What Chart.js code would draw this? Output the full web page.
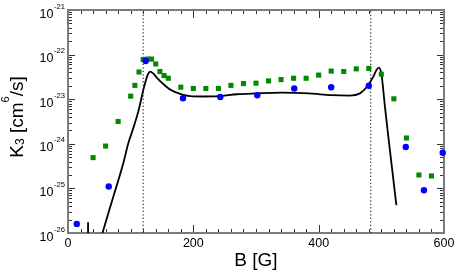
<!DOCTYPE html>
<html>
<head>
<meta charset="utf-8">
<script src="https://cdn.jsdelivr.net/npm/chart.js@4/dist/chart.umd.min.js"></script>
<style>
  html, body { margin: 0; padding: 0; background: #fff; }
  #wrap { width: 456px; height: 273px; }
</style>
</head>
<body>
<div id="wrap"><canvas id="c" width="456" height="273"></canvas></div>
<script>
// ---- data ----
const greenX = [40, 60, 80, 100, 106.7, 113.3, 120, 126.7, 133.3, 140, 146.7, 153.3, 160,
  180, 200, 220, 240, 260, 280, 300, 320, 340, 360, 380, 400, 420, 440, 460, 480, 500, 520, 540, 560, 580];
const greenY = [4.9e-25, 8.9e-25, 3.16e-24, 1.17e-23, 2.04e-23, 4.07e-23, 7.76e-23, 7.94e-23, 7.94e-23, 6.17e-23, 4.17e-23, 3.39e-23, 2.95e-23,
  1.86e-23, 1.74e-23, 1.74e-23, 1.74e-23, 2.04e-23, 2.24e-23, 2.29e-23, 2.57e-23, 2.75e-23, 2.95e-23, 2.95e-23, 3.47e-23, 4.27e-23, 4.17e-23, 4.79e-23, 4.9e-23, 3.63e-23, 1.02e-23, 1.35e-24, 2.0e-25, 1.9e-25];

const blueX = [14, 65, 124, 183.5, 243, 302, 361, 420, 480, 539, 568, 598];
const blueY = [1.6e-26, 1.1e-25, 7.2e-23, 1.05e-23, 1.12e-23, 1.23e-23, 1.74e-23, 1.86e-23, 2.0e-23, 8.5e-25, 9.1e-26, 6.3e-25];

const curveX = [55, 72, 88, 96, 104, 112, 116, 120, 123, 127, 131, 136, 142, 152, 165, 179, 195, 215, 240, 270, 300, 340, 385, 420, 450, 466, 477, 487, 492, 496, 500, 506, 511, 524];
const curveY = [1.0e-26, 6.3e-26, 3.55e-25, 1.0e-24, 2.2e-24, 5.2e-24, 8.9e-24, 1.58e-23, 2.29e-23, 3.47e-23, 4.17e-23, 3.8e-23, 3.0e-23, 2.19e-23, 1.58e-23, 1.32e-23, 1.17e-23, 1.15e-23, 1.17e-23, 1.29e-23, 1.35e-23, 1.41e-23, 1.35e-23, 1.23e-23, 1.2e-23, 1.35e-23, 1.9e-23, 3.16e-23, 4.47e-23, 5.13e-23, 3.8e-23, 6.3e-24, 1.5e-24, 4.2e-26];

const barX = [32, 32];
const barY = [1.0e-26, 1.75e-26];

const vLines = [120, 483];

const xTickLabels = ['0', '200', '400', '600'];
const xMinorStep = 20;
const yTickExponents = ['-26', '-25', '-24', '-23', '-22', '-21'];

const xTitle = 'B [G]';
const yTitleParts = [['K', 'n'], ['3', 'sub'], [' [cm', 'n'], ['6', 'sup'], ['/s]', 'n']];

// ---- build datasets ----
const pts = (xs, ys) => xs.map((x, i) => ({ x: x, y: ys[i] }));
const FONT = '"Liberation Sans", Arial, Helvetica, sans-serif';

const datasets = [
  { label: 'blue', data: pts(blueX, blueY), backgroundColor: '#0000ff', borderColor: '#0000ff', borderWidth: 0,
    pointStyle: 'circle', pointRadius: 3.2, showLine: false, clip: false },
  { label: 'green', data: pts(greenX, greenY), backgroundColor: '#008a00', borderColor: '#008a00', borderWidth: 0,
    pointStyle: 'rect', pointRadius: 3.6, showLine: false },
  { label: 'curve', data: pts(curveX, curveY), borderColor: '#000', borderWidth: 1.8, pointRadius: 0,
    showLine: true, cubicInterpolationMode: 'monotone' },
  { label: 'bar', data: pts(barX, barY), borderColor: '#000', borderWidth: 1.8, pointRadius: 0, showLine: true }
];
vLines.forEach(v => {
  datasets.push({ label: 'v' + v, data: [{ x: v, y: 1e-26 }, { x: v, y: 1e-21 }], borderColor: '#333',
    borderWidth: 1.2, borderDash: [1.3, 2.2], pointRadius: 0, showLine: true });
});

const axisPlugin = {
  id: 'axisDecor',
  beforeDatasetsDraw(chart) {
    const ctx = chart.ctx, a = chart.chartArea;
    const xs = chart.scales.x, ys = chart.scales.y;
    ctx.save();
    ctx.strokeStyle = '#333';
    ctx.lineWidth = 1;
    ctx.beginPath();
    for (let v = 0; v <= 600; v += xMinorStep) {
      const px = Math.round(xs.getPixelForValue(v)) + 0.5;
      const major = xTickLabels.indexOf(String(v)) >= 0;
      const len = major ? 8 : 4;
      ctx.moveTo(px, a.bottom); ctx.lineTo(px, a.bottom - len);
      ctx.moveTo(px, a.top); ctx.lineTo(px, a.top + len);
    }
    yTickExponents.forEach((e, i) => {
      const dec = Math.pow(10, Number(e));
      for (let m = 1; m <= 9; m++) {
        if (m > 1 && i === yTickExponents.length - 1) break;
        const val = dec * m;
        const py = Math.round(ys.getPixelForValue(val)) + 0.5;
        const len = m === 1 ? 7 : 4;
        ctx.moveTo(a.left, py); ctx.lineTo(a.left + len, py);
        ctx.moveTo(a.right, py); ctx.lineTo(a.right - len, py);
      }
    });
    ctx.stroke();
    ctx.strokeStyle = '#7a7a7a';
    ctx.lineWidth = 2;
    ctx.strokeRect(a.left, a.top, a.right - a.left, a.bottom - a.top);
    ctx.restore();
  },
  afterDraw(chart) {
    const ctx = chart.ctx, a = chart.chartArea;
    const xs = chart.scales.x, ys = chart.scales.y;
    ctx.save();
    ctx.fillStyle = '#000';
    ctx.font = '12.5px ' + FONT;
    ctx.textAlign = 'center';
    ctx.textBaseline = 'alphabetic';
    xTickLabels.forEach(t => {
      ctx.fillText(t, xs.getPixelForValue(Number(t)), a.bottom + 13.8);
    });
    yTickExponents.forEach(e => {
      const py = ys.getPixelForValue(Math.pow(10, Number(e)));
      ctx.font = '7.6px ' + FONT;
      const w = ctx.measureText(e).width;
      const supX = a.left - 3 - w;
      ctx.textAlign = 'left';
      ctx.fillText(e, supX, py - 1.5);
      ctx.font = '12.5px ' + FONT;
      ctx.textAlign = 'right';
      ctx.fillText('10', supX - 0.5, py + 7.5);
    });
    ctx.font = '19px ' + FONT;
    ctx.textAlign = 'center';
    ctx.fillText(xTitle, (a.left + a.right) / 2, 266);
    const sizes = { n: 19, sub: 12, sup: 11 };
    let total = 0;
    yTitleParts.forEach(p => { ctx.font = sizes[p[1]] + 'px ' + FONT; total += ctx.measureText(p[0]).width; });
    ctx.translate(22.7, 117 + total / 2);
    ctx.rotate(-Math.PI / 2);
    ctx.textAlign = 'left';
    let x = 0;
    yTitleParts.forEach(p => {
      ctx.font = sizes[p[1]] + 'px ' + FONT;
      const dy = p[1] === 'sub' ? 1.5 : (p[1] === 'sup' ? -14 : 0);
      ctx.fillText(p[0], x, dy);
      x += ctx.measureText(p[0]).width;
    });
    ctx.restore();
  }
};

new Chart(document.getElementById('c'), {
  type: 'scatter',
  data: { datasets: datasets },
  options: {
    responsive: false,
    animation: false,
    devicePixelRatio: 1,
    layout: { padding: { top: 10, right: 12, left: 0, bottom: 0 } },
    plugins: { legend: { display: false }, tooltip: { enabled: false } },
    scales: {
      x: { type: 'linear', min: 0, max: 600, ticks: { display: false }, grid: { display: false },
        border: { display: false }, afterFit(s) { s.height = 40; } },
      y: { type: 'logarithmic', min: 1e-26, max: 1e-21, ticks: { display: false }, grid: { display: false },
        border: { display: false }, afterFit(s) { s.width = 68; } }
    }
  },
  plugins: [axisPlugin]
});
</script>
</body>
</html>
